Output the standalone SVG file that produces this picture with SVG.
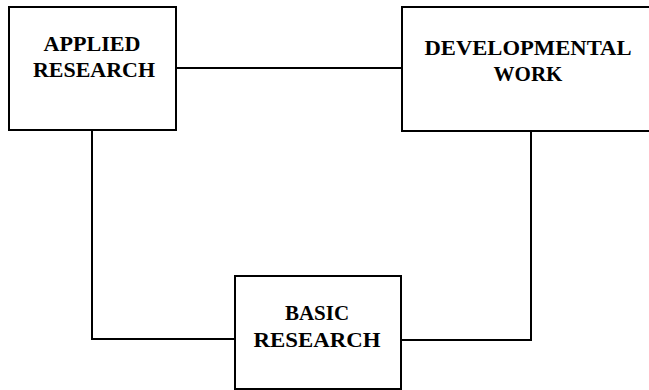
<svg xmlns="http://www.w3.org/2000/svg" width="649" height="390" viewBox="0 0 649 390">
<style>
.box{fill:#fff;stroke:#000;stroke-width:2}
.conn{fill:none;stroke:#000;stroke-width:2}
.lbl{font-family:"Liberation Serif","Times New Roman",serif;font-weight:bold;font-size:21px;fill:#000;text-anchor:middle}
</style>
<rect width="649" height="390" fill="#fff"/>
<g id="connectors">
<line class="conn" x1="176" y1="68" x2="402" y2="68"/>
<polyline class="conn" points="92,131 92,339 235,339"/>
<polyline class="conn" points="401,340 531,340 531,131"/>
</g>
<g id="applied">
<rect class="box" x="9" y="7" width="167" height="123"/>
<text class="lbl" x="92" y="51" textLength="97" lengthAdjust="spacingAndGlyphs">APPLIED</text>
<text class="lbl" x="94" y="77" textLength="122" lengthAdjust="spacingAndGlyphs">RESEARCH</text>
</g>
<g id="developmental">
<rect class="box" x="402" y="7" width="250" height="124"/>
<text class="lbl" x="528" y="55" textLength="207" lengthAdjust="spacingAndGlyphs">DEVELOPMENTAL</text>
<text class="lbl" x="528" y="81">WORK</text>
</g>
<g id="basic">
<rect class="box" x="235" y="276" width="166" height="113"/>
<text class="lbl" x="317" y="320">BASIC</text>
<text class="lbl" x="317" y="347" textLength="127" lengthAdjust="spacingAndGlyphs">RESEARCH</text>
</g>
</svg>
